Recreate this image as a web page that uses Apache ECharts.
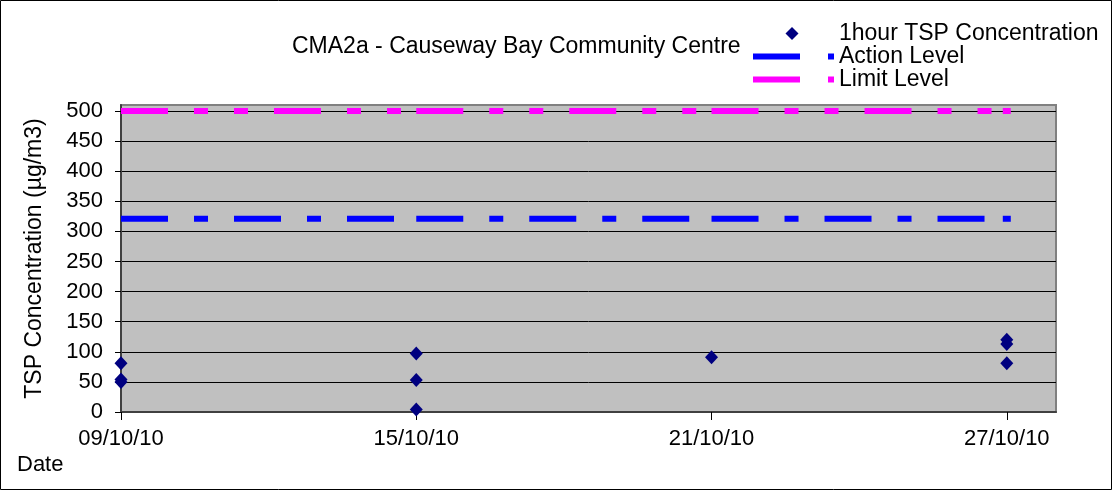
<!DOCTYPE html>
<html>
<head>
<meta charset="utf-8">
<script src="https://cdn.jsdelivr.net/npm/echarts@6/dist/echarts.min.js"></script>
<style>
  html, body { margin: 0; padding: 0; background: #fff; }
  #chart { width: 1112px; height: 490px; }
</style>
</head>
<body>
<div id="chart"></div>
<script>
  // 1hour TSP readings, one entry per sample
  const sampleDates = ['09/10/10', '09/10/10', '09/10/10', '15/10/10', '15/10/10', '15/10/10', '21/10/10', '27/10/10', '27/10/10', '27/10/10']
  const tspValues = [81, 54, 50, 97, 53, 4, 91, 120, 113, 81]

  // dates the level lines are drawn through
  const levelDates = ['09/10/10', '15/10/10', '21/10/10', '27/10/10']
  const actionLevel = 321
  const limitLevel = 500

  const tickDates = ['09/10/10', '15/10/10', '21/10/10', '27/10/10']
  const yTicks = [0, 50, 100, 150, 200, 250, 300, 350, 400, 450, 500]
  const startDate = '09/10/10'
  const endDate = '28/10/10'

  const font = 'Liberation Sans'

  function toDay(s) {
    const p = s.split('/')
    return Date.UTC(2000 + Number(p[2]), Number(p[1]) - 1, Number(p[0])) / 86400000
  }
  const day0 = toDay(startDate)
  const dayIndex = s => toDay(s) - day0
  const tickValues = tickDates.map(dayIndex)

  // one series per segment so the dash pattern restarts at each date, like the original
  function levelSeries(name, value, color, dash) {
    const out = []
    const last = levelDates.length - 2
    for (let i = 0; i <= last; i++) {
      out.push({
        name: name,
        type: 'line',
        symbol: 'rect',
        symbolSize: [8, 6],
        showSymbol: true,
        silent: true,
        color: color,
        itemStyle: { color: color, borderWidth: 0 },
        lineStyle: { color: color, width: 6, type: dash, cap: 'butt' },
        data: [
          { value: [dayIndex(levelDates[i]), value], symbol: 'none' },
          { value: [dayIndex(levelDates[i + 1]), value], symbol: i === last ? 'rect' : 'none' }
        ]
      })
    }
    return out
  }

  const chart = echarts.init(document.getElementById('chart'))
  chart.setOption({
    animation: false,
    textStyle: { fontFamily: font },
    title: {
      text: 'CMA2a - Causeway Bay Community Centre',
      left: 292,
      top: 35,
      padding: 0,
      textStyle: { fontFamily: font, fontSize: 23, fontWeight: 'normal', color: '#000' }
    },
    legend: {
      orient: 'vertical',
      left: 753,
      top: 22,
      padding: 0,
      itemGap: 0,
      itemWidth: 81,
      itemHeight: 14,
      itemStyle: { borderWidth: 0, opacity: 1 },
      textStyle: { fontFamily: font, fontSize: 23, color: '#000', lineHeight: 22.5 },
      data: [
        { name: '1hour TSP Concentration', icon: 'path://M0,0L0,0M81,14L81,14M39,0.5L45.5,7L39,13.5L32.5,7Z' },
        { name: 'Action Level', icon: 'path://M0,0L0,0M81,14L81,14M0,4H47V10H0ZM75,4H81V10H75Z' },
        { name: 'Limit Level', icon: 'path://M0,0L0,0M81,14L81,14M0,4H47V10H0ZM75,4H81V10H75Z' }
      ]
    },
    grid: {
      left: 121,
      right: 56,
      top: 105,
      bottom: 78,
      show: true,
      backgroundColor: '#c0c0c0',
      borderColor: '#808080',
      borderWidth: 2
    },
    xAxis: {
      type: 'value',
      min: 0,
      max: dayIndex(endDate),
      axisLine: { lineStyle: { color: '#404040', width: 2 } },
      axisTick: { show: true, length: 8, customValues: tickValues, lineStyle: { color: '#000' } },
      axisLabel: {
        customValues: tickValues,
        margin: 16,
        fontFamily: font,
        fontSize: 22,
        color: '#000',
        formatter: v => tickDates[tickValues.indexOf(v)]
      },
      splitLine: { show: false }
    },
    yAxis: {
      type: 'value',
      min: 0,
      max: 510,
      interval: 50,
      name: 'TSP Concentration (µg/m3)',
      nameLocation: 'middle',
      nameGap: 75,
      nameRotate: 90,
      nameTextStyle: { fontFamily: font, fontSize: 23, color: '#000' },
      axisLine: { show: true, lineStyle: { color: '#404040', width: 2 } },
      axisTick: { show: true, length: 6, customValues: yTicks, lineStyle: { color: '#000' } },
      axisLabel: {
        customValues: yTicks,
        margin: 18,
        fontFamily: font,
        fontSize: 22,
        color: '#000'
      },
      splitLine: { show: true, lineStyle: { color: '#000', width: 1 } }
    },
    graphic: [
      {
        type: 'text',
        left: 17,
        top: 454,
        style: { text: 'Date', font: '22px "Liberation Sans"', fill: '#000' }
      },
      {
        type: 'rect',
        shape: { x: 0.5, y: 0.5, width: 1111, height: 489 },
        style: { fill: 'none', stroke: '#000', lineWidth: 1 },
        silent: true
      }
    ],
    series: [
      {
        name: '1hour TSP Concentration',
        type: 'scatter',
        symbol: 'diamond',
        symbolSize: [13, 14],
        color: '#000080',
        itemStyle: { color: '#000080', opacity: 1 },
        z: 3,
        data: sampleDates.map((d, i) => [dayIndex(d), tspValues[i]])
      },
      ...levelSeries('Action Level', actionLevel, '#0000ff', [47, 26, 14, 26]),
      ...levelSeries('Limit Level', limitLevel, '#ff00ff', [47, 26, 14, 26, 14, 26])
    ]
  })
</script>
</body>
</html>
